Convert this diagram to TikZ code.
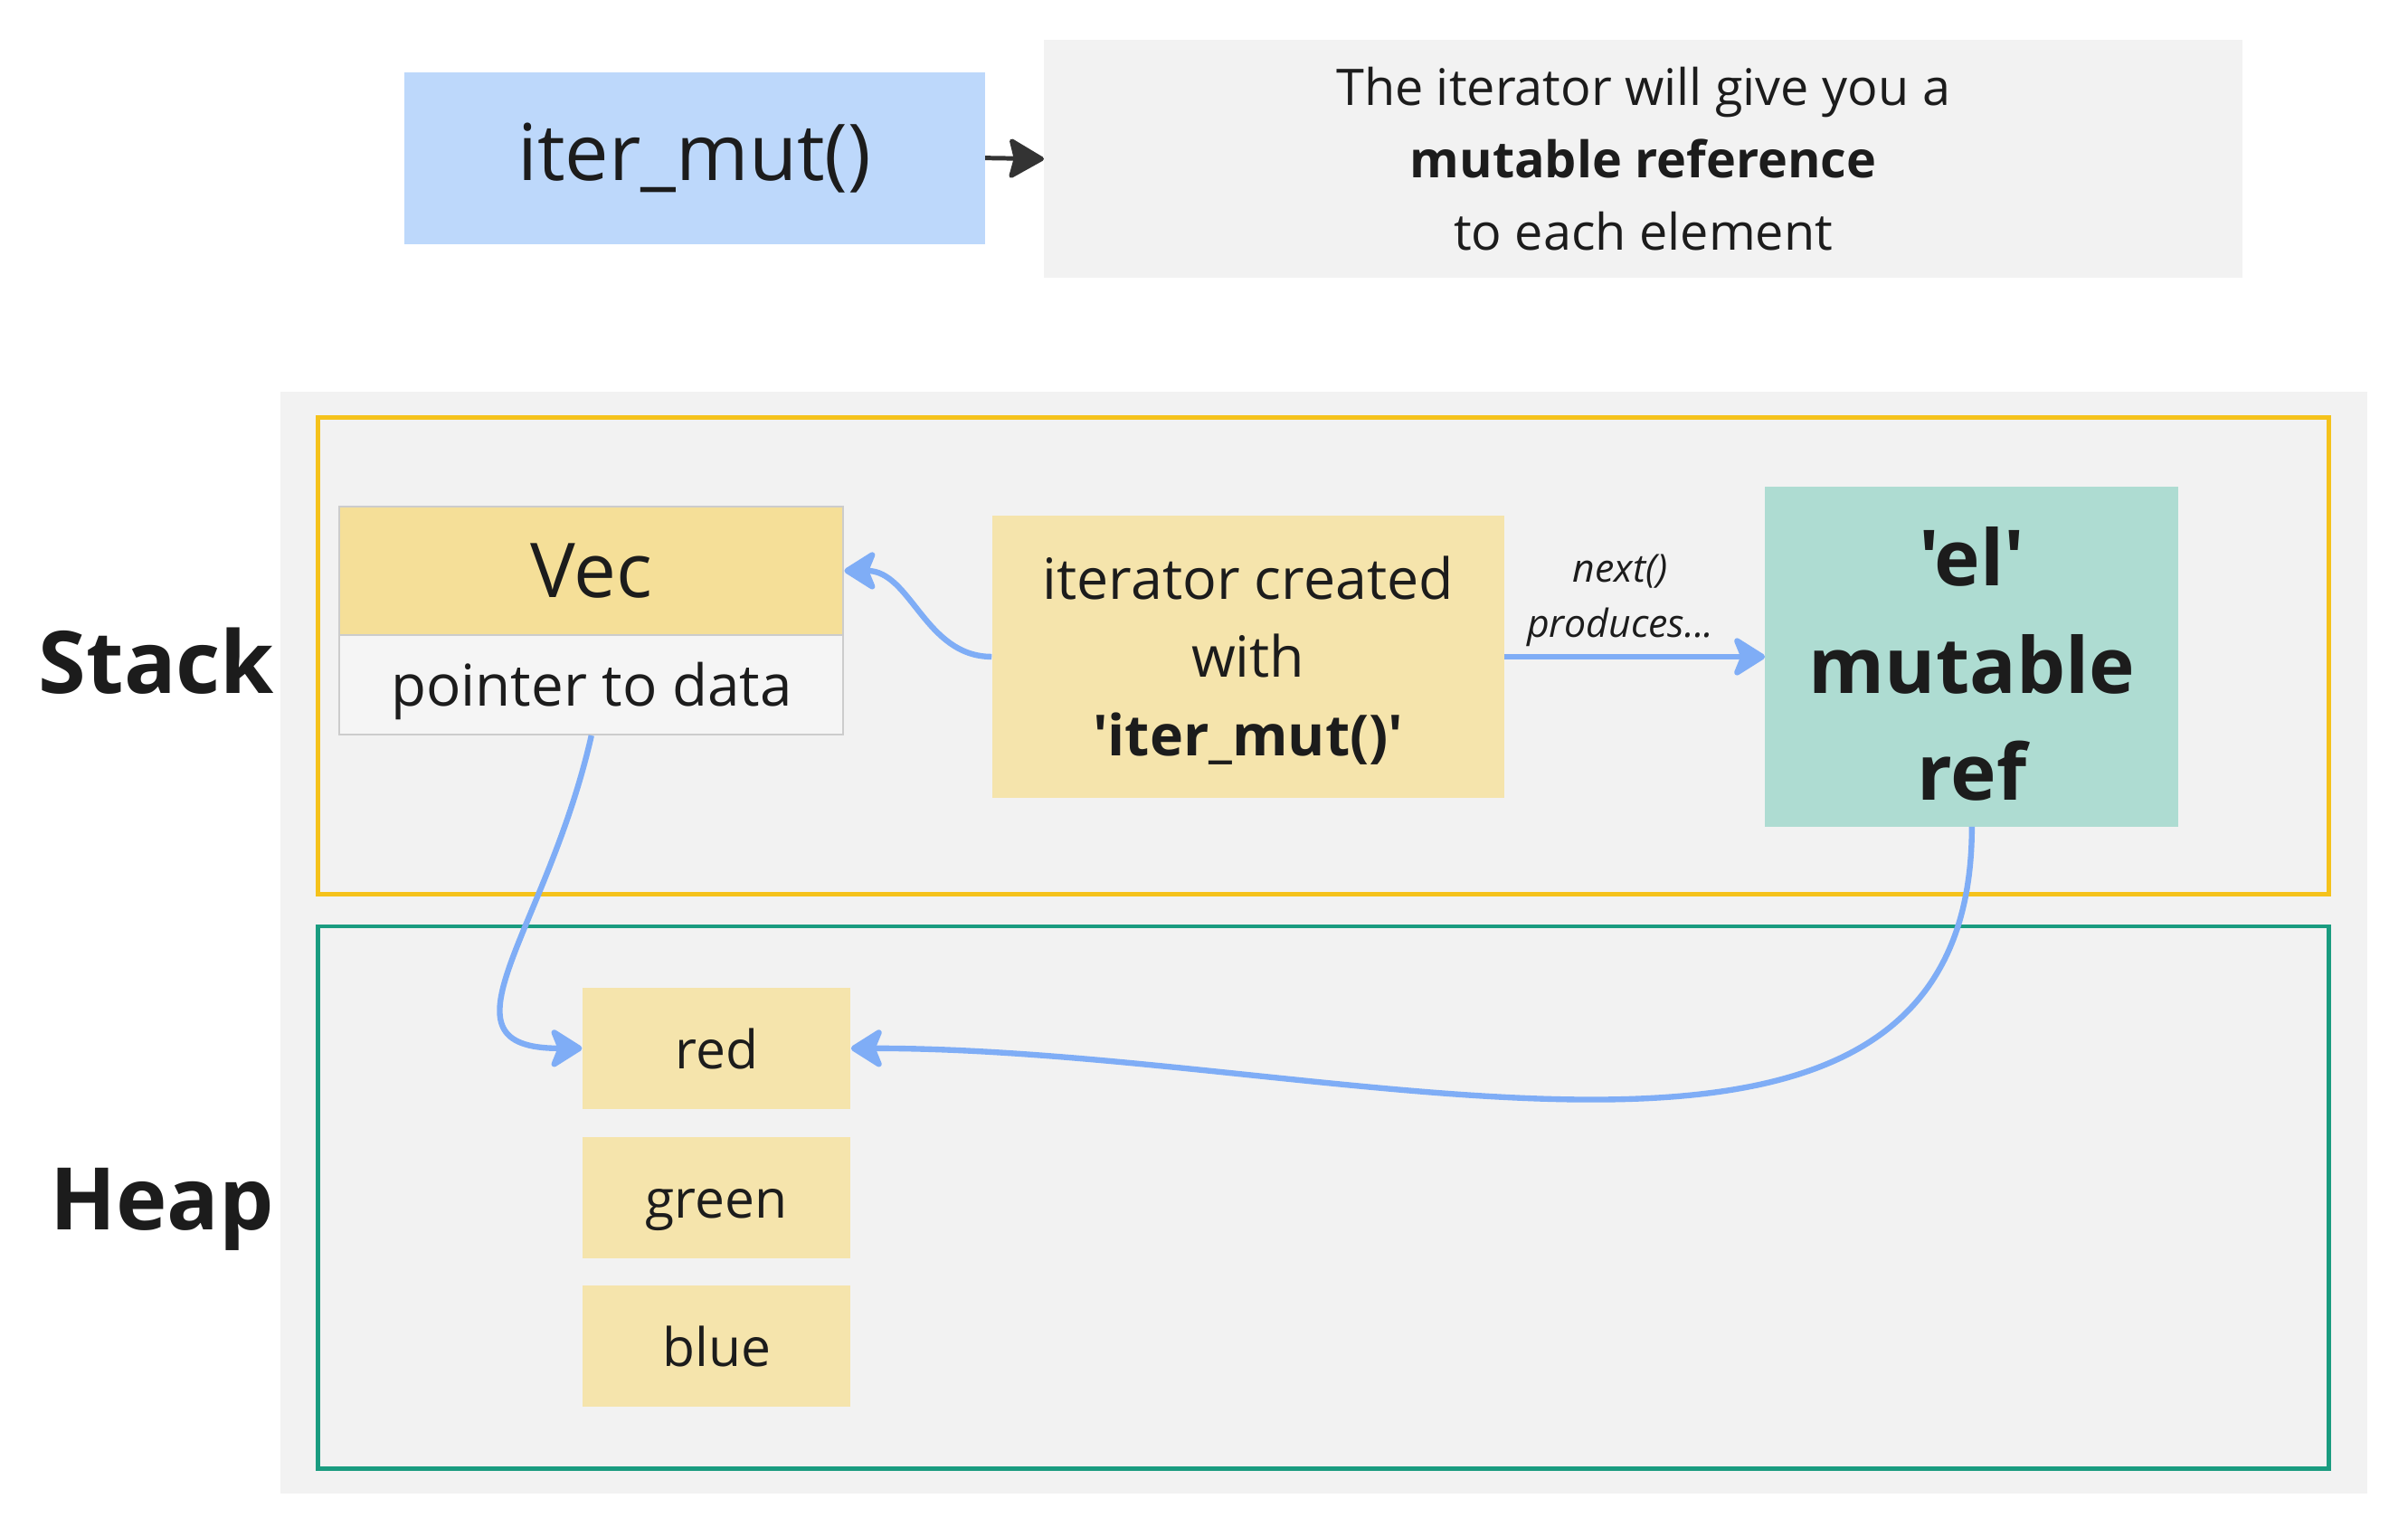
\documentclass[tikz,border=0pt]{standalone}
\usepackage{fontspec}
\setmainfont{Open Sans}[Ligatures=TeXOff]
\usetikzlibrary{arrows.meta}

\definecolor{mutblue}{HTML}{BDD8FB}
\definecolor{areagray}{HTML}{F2F2F2}
\definecolor{stackyellow}{HTML}{F5C21B}
\definecolor{heapgreen}{HTML}{1A9C80}
\definecolor{vecyellow}{HTML}{F5DF98}
\definecolor{cellyellow}{HTML}{F5E4AC}
\definecolor{refgreen}{HTML}{AEDCD2}
\definecolor{linkblue}{HTML}{7FADF6}
\definecolor{inkgray}{HTML}{1C1C1C}

\tikzset{
  box/.style={inner sep=0pt, text=inkgray, align=center},
  cell/.style={box, fill=cellyellow, minimum width=149pt, minimum height=67.5pt,
    text height=22.4pt, text depth=0pt, font=\fontsize{29.5}{36}\selectfont},
  area/.style={box, font=\bfseries\fontsize{48}{58}\selectfont, anchor=east},
  link/.style={draw=linkblue, line width=3.2pt, -{Stealth[length=20pt,width=25pt,inset=5pt,round]}},
  darklink/.style={draw=inkgray!90, line width=2.5pt, -{Stealth[length=21pt,width=24pt,inset=3pt,round]}}
}

\begin{document}
\begin{tikzpicture}[x=0.5pt,y=-0.5pt]
	% Define the canvas and the two memory areas
	\fill[white] (0,0) rectangle (2675,1696);
	\useasboundingbox (0,0) rectangle (2675,1696);
	\fill[areagray] (312,435) rectangle (2630,1659);
	\draw[stackyellow, line width=2.5pt] (353,464) rectangle (2587,993);
	\draw[heapgreen, line width=2.5pt] (353,1029) rectangle (2587,1631);
	
	% Define nodes for the top row
	\node[box, fill=mutblue, minimum width=322.5pt, minimum height=95.5pt,
	  font=\fontsize{43.5}{52}\selectfont] (mut) at (771.5,175.5) {iter\_mut()};
	\node[box, fill=areagray, minimum width=665.5pt, minimum height=132.5pt,
	  font=\fontsize{28}{40}\selectfont] (note) at (1825.5,176.5)
	  {The iterator will give you a\\\textbf{mutable reference}\\to each element};
	
	% Define nodes for the stack
	\node[area] (stack) at (305,734) {Stack};
	\node[box, fill=vecyellow, draw=black!20, line width=1pt, minimum width=280pt,
	  minimum height=71pt, font=\fontsize{42}{50}\selectfont] (vec) at (657,634) {Vec};
	\node[box, fill=white!96!black, draw=black!20, line width=1pt, minimum width=280pt,
	  minimum height=55.5pt, text height=24.3pt, text depth=0pt,
	  font=\fontsize{32}{40}\selectfont] (ptr) at (657,760.5) {pointer to data};
	\node[box, fill=cellyellow, minimum width=284.5pt, minimum height=156.5pt,
	  font=\fontsize{31.5}{43.5}\selectfont] (iter) at (1386.5,729.5)
	  {\rule{0pt}{0.88em}iterator created\\with\\\textbf{'iter\_mut()'}};
	\node[box, fill=refgreen, minimum width=229.5pt, minimum height=188.5pt,
	  font=\bfseries\fontsize{43}{59.5}\selectfont] (ref) at (2190.5,729.5)
	  {\rule{0pt}{0.95em}'el'\\mutable\\ref};
	\node[box, font=\itshape\fontsize{21.5}{30.5}\selectfont] (next) at (1800,667) {next()\\produces...};
	
	% Define nodes for the heap
	\node[area] (heap) at (305,1343) {Heap};
	\foreach \name/\y in {red/1164.5,green/1330.5,blue/1495.5}
	\node[cell] (\name) at (796,\y) {\name};
	
	% Draw the arrows
	\draw[darklink] (mut.east) -- (note.west);
	\draw[link] (iter.west) to[out=180,in=0] (vec.east);
	\draw[link] (iter.east) -- (ref.west);
	\draw[link] (ptr.south) .. controls +(-50,220) and +(-170,0) .. (red.west);
	\draw[link] (ref.south) .. controls +(0,480) and +(550,0) .. (red.east);
\end{tikzpicture}
\end{document}
